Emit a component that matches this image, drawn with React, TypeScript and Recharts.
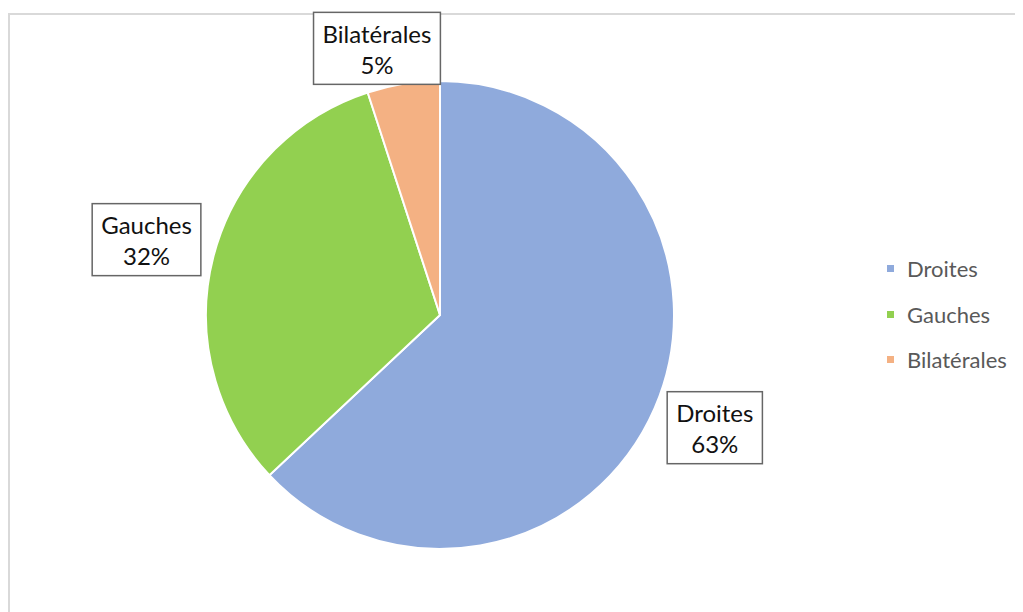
import { PieChart, Pie, Cell, Legend } from "recharts";

const categories = ["Droites", "Gauches", "Bilatérales"];
const shares = [63, 32, 5];
const colors = ["#8FAADC", "#92D050", "#F4B183"];

const chartData = categories.map((name, i) => ({ name, value: shares[i] }));

const FONT = "Lato, 'Liberation Sans', sans-serif";
const RAD = Math.PI / 180;
// how far out each callout box sits, and a small angle nudge (deg)
const labelNudge = [
  { r: 63, a: 1.1 },
  { r: 69, a: 0 },
  { r: 40, a: 4.3 },
];

let measureCtx: CanvasRenderingContext2D | null = null;
function textWidth(s: string, size: number) {
  if (!measureCtx) measureCtx = document.createElement("canvas").getContext("2d");
  if (!measureCtx) return s.length * size * 0.5;
  measureCtx.font = `${size}px Lato`;
  return measureCtx.measureText(s).width;
}

function CalloutLabel(props: any) {
  const { cx, cy, midAngle, outerRadius, index, name, value } = props;
  const nudge = labelNudge[index] || { r: 60, a: 0 };
  const ang = (midAngle + nudge.a) * RAD;
  const r = outerRadius + nudge.r;
  const x = cx + r * Math.cos(ang);
  const y = cy - r * Math.sin(ang);
  const pct = `${value}%`;
  const w = Math.max(textWidth(name, 24), textWidth(pct, 24)) + 18;
  const h = 72;
  return (
    <g>
      <rect x={x - w / 2} y={y - h / 2} width={w} height={h} fill="#fff" stroke="#666" strokeWidth={1.5} />
      <text x={x} y={y - 15} textAnchor="middle" dominantBaseline="central" fontFamily={FONT} fontSize={24} fill="#111">
        {name}
      </text>
      <text x={x} y={y + 16} textAnchor="middle" dominantBaseline="central" fontFamily={FONT} fontSize={24} fill="#111">
        {pct}
      </text>
    </g>
  );
}

function LegendList({ payload }: any) {
  const items = [...(payload || [])].sort(
    (a: any, b: any) => categories.indexOf(a.value) - categories.indexOf(b.value)
  );
  return (
    <div style={{ fontFamily: FONT, fontSize: 22, color: "#595959" }}>
      {items.map((p: any) => (
        <div key={p.value} style={{ display: "flex", alignItems: "center", height: 45.5 }}>
          <span style={{ width: 7, height: 7, background: p.color, marginRight: 13, display: "inline-block" }} />
          <span>{p.value}</span>
        </div>
      ))}
    </div>
  );
}

export default function App() {
  return (
    <div style={{ position: "relative", width: 1015, height: 604 }}>
      <div
        style={{
          position: "absolute",
          top: 5,
          left: 0,
          right: 0,
          bottom: 0,
          borderTop: "2px solid #d9d9d9",
          borderLeft: "2px solid #d9d9d9",
        }}
      />
      <PieChart width={1015} height={604} margin={{ top: 0, right: 0, bottom: 0, left: 0 }}>
        <Pie
          data={chartData}
          dataKey="value"
          nameKey="name"
          cx={432}
          cy={307}
          outerRadius={234}
          startAngle={90}
          endAngle={-270}
          stroke="#fff"
          strokeWidth={2}
          label={CalloutLabel}
          labelLine={false}
          isAnimationActive={false}
        >
          {chartData.map((d, i) => (
            <Cell key={d.name} fill={colors[i]} />
          ))}
        </Pie>
        <Legend
          layout="vertical"
          itemSorter={null}
          content={LegendList}
          wrapperStyle={{ position: "absolute", left: 879, top: 238, width: 136 }}
        />
      </PieChart>
    </div>
  );
}
